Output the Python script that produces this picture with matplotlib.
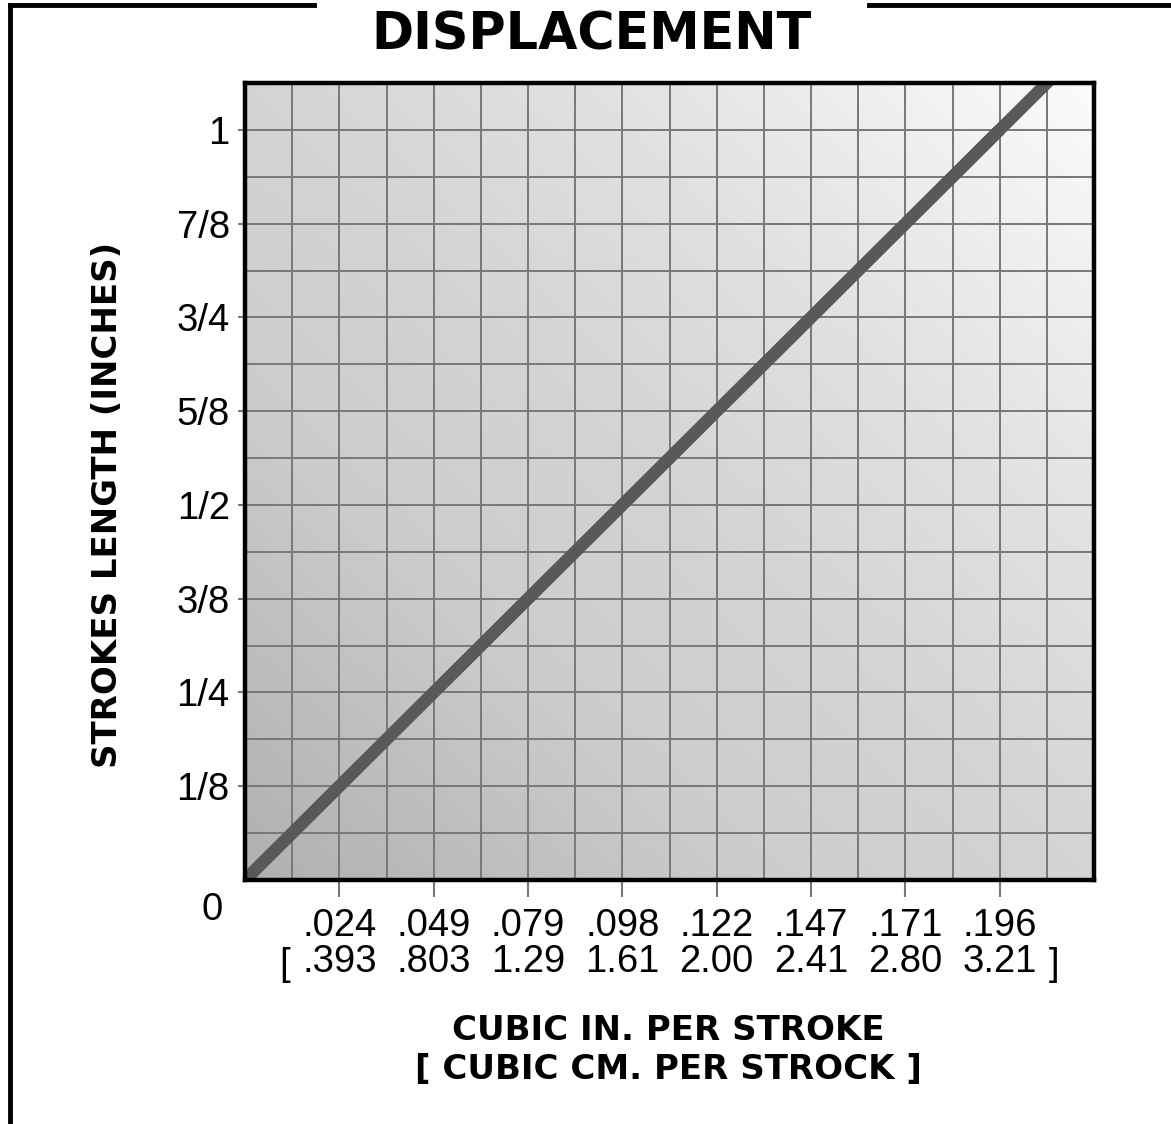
import numpy as np
import matplotlib
matplotlib.use("Agg")
import matplotlib.pyplot as plt
from matplotlib.lines import Line2D
from matplotlib.colors import LinearSegmentedColormap

# ---- data ----
stroke_labels = ["1/8", "1/4", "3/8", "1/2", "5/8", "3/4", "7/8", "1"]
stroke_values = [1/8, 2/8, 3/8, 4/8, 5/8, 6/8, 7/8, 1.0]
cubic_in = [".024", ".049", ".079", ".098", ".122", ".147", ".171", ".196"]
cubic_cm = [".393", ".803", "1.29", "1.61", "2.00", "2.41", "2.80", "3.21"]
tick_pos = [1, 2, 3, 4, 5, 6, 7, 8]           # category positions of the x ticks
line_x = [0, 1, 2, 3, 4, 5, 6, 7, 8]
line_y = [0, 1/8, 2/8, 3/8, 4/8, 5/8, 6/8, 7/8, 1.0]

W, H = 1171, 1124
fig = plt.figure(figsize=(W/100, H/100), dpi=100)
fig.patch.set_facecolor("white")

ax = fig.add_axes([245/W, 1 - 880/H, (1094-245)/W, (880-83)/H])
xmin, xmax = 0, 9
ymin, ymax = 0, 17/16
ax.set_xlim(xmin, xmax)
ax.set_ylim(ymin, ymax)

# background gradient (styling)
n = 300
u = np.linspace(0, 1, n)
U, V = np.meshgrid(u, u)
t = (U + V) / 2
cmap = LinearSegmentedColormap.from_list(
    "bg", [(0.0, "#b2b0ae"), (0.3, "#cccccd"), (0.5, "#d5d4d5"), (0.7, "#e2e1e0"), (1.0, "#fbfbfb")])
ax.imshow(t, extent=(xmin, xmax, ymin, ymax), origin="lower", cmap=cmap,
          aspect="auto", zorder=0, interpolation="bilinear")

# grid
grid_c = "#7a7874"
for gx in np.arange(0.5, 9, 0.5):
    ax.axvline(gx, color=grid_c, lw=1.4, zorder=1)
for gy in np.arange(1/16, 17/16, 1/16):
    ax.axhline(gy, color=grid_c, lw=1.4, zorder=1)

# displacement line
ax.plot(line_x, line_y, color="#58595b", lw=8.8, solid_capstyle="butt", zorder=3)
ax.axline((line_x[0], line_y[0]), (line_x[-1], line_y[-1]), color="#58595b", lw=8.8, zorder=3)

# spines
for s in ax.spines.values():
    s.set_linewidth(3.2)
    s.set_color("black")
    s.set_zorder(5)

# ticks
tick_font = dict(family="Liberation Sans", size=27.5)
ax.set_yticks(stroke_values)
ax.set_yticklabels(stroke_labels, fontdict=tick_font)
ax.set_xticks(tick_pos)
ax.set_xticklabels([f"{a}\n{b}" for a, b in zip(cubic_in, cubic_cm)],
                   fontdict=tick_font, linespacing=0.98)
ax.tick_params(axis="y", direction="out", length=5, width=1.5, color=grid_c, pad=6)
ax.tick_params(axis="x", direction="out", length=12, width=1.5, color=grid_c, pad=8.5)

# "0" label
fig.text(212/W, 1 - 910/H, "0", ha="center", va="center", fontdict=tick_font)

# brackets
fig.text(285/W, 1 - 965/H, "[", ha="center", va="center", fontdict=tick_font)
fig.text(1054/W, 1 - 965/H, "]", ha="center", va="center", fontdict=tick_font)

# axis labels
lab_font = dict(family="DejaVu Sans", weight="bold", size=24.5)
fig.text(108/W, 1 - 505/H, "STROKES LENGTH (INCHES)", rotation=90,
         ha="center", va="center", fontdict=lab_font)
fig.text(668/W, 1 - 1030/H, "CUBIC IN. PER STROKE", ha="center", va="center", fontdict=lab_font)
fig.text(668/W, 1 - 1070/H, "[ CUBIC CM. PER STROCK ]", ha="center", va="center", fontdict=lab_font)

# title
fig.text(592/W, 1 - 49/H, "DISPLACEMENT", ha="center", va="baseline",
         family="DejaVu Sans", weight="heavy", size=36.5)

# frame
fr = dict(color="black", lw=3.5, transform=fig.transFigure, solid_capstyle="projecting")
fig.add_artist(Line2D([10/W, 10/W], [1 - 5/H, 0], **fr))
fig.add_artist(Line2D([10/W, 314/W], [1 - 5/H, 1 - 5/H], **fr))
fig.add_artist(Line2D([869/W, 1], [1 - 5/H, 1 - 5/H], **fr))

fig.savefig("out.png", dpi=100, facecolor="white")
